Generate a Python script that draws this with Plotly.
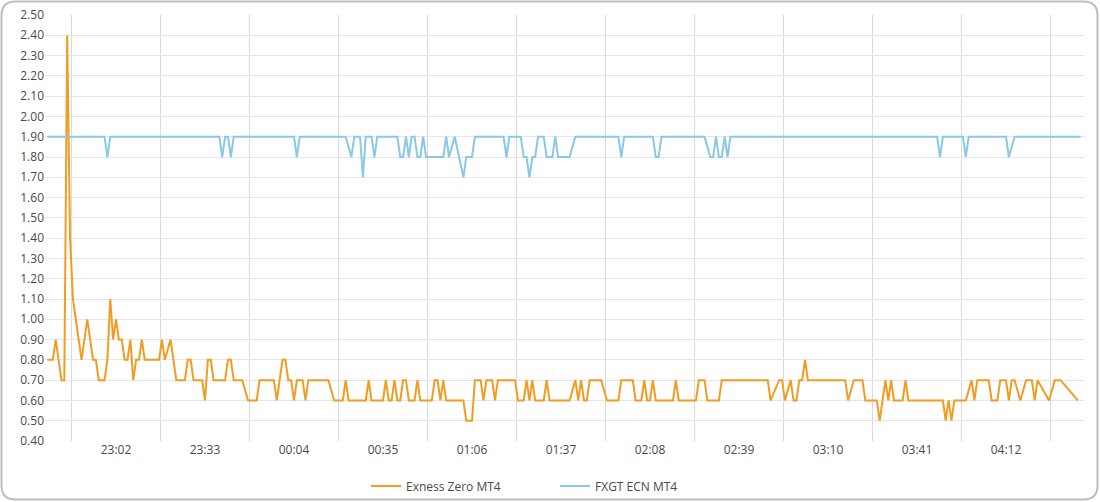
import plotly.graph_objects as go

# ---------------- data ----------------
START = "22:38"
tick_labels = ["23:02", "23:33", "00:04", "00:35", "01:06", "01:37",
               "02:08", "02:39", "03:10", "03:41", "04:12"]

series_names = ["Exness Zero MT4", "FXGT ECN MT4"]

# minutes since START at which the value changes direction, and the value there
exness_min = [0, 2, 3, 5, 6, 7, 8, 9, 12, 14, 16, 17, 18, 20, 21, 22, 23, 24, 25, 26,
              27, 28, 29, 30, 31, 32, 33, 34, 39, 40, 41, 43, 45, 48, 49, 50, 51, 54, 55, 56,
              57, 58, 62, 63, 64, 65, 68, 70, 73, 74, 79, 80, 82, 83, 84, 85, 86, 87, 89, 90,
              91, 98, 100, 103, 104, 105, 111, 112, 113, 117, 118, 119, 120, 121, 122, 123, 124, 125, 126, 128,
              129, 130, 134, 135, 136, 137, 138, 139, 145, 146, 148, 149, 151, 152, 153, 155, 156, 157, 163, 164,
              166, 167, 168, 169, 170, 173, 174, 175, 182, 184, 185, 186, 187, 188, 189, 193, 195, 199, 200, 204,
              205, 207, 208, 209, 210, 211, 212, 218, 219, 220, 226, 227, 229, 230, 234, 235, 251, 252, 255, 256,
              257, 259, 260, 261, 262, 263, 264, 265, 278, 279, 281, 284, 285, 289, 290, 292, 293, 294, 295, 298,
              299, 300, 312, 313, 314, 315, 316, 320, 322, 323, 324, 328, 329, 331, 332, 334, 335, 336, 337, 339,
              341, 343, 344, 345, 349, 351, 353, 359]
exness_val = [0.8, 0.8, 0.9, 0.7, 0.7, 2.4, 1.4, 1.1, 0.8, 1.0, 0.8, 0.8, 0.7, 0.7, 0.8, 1.1, 0.9, 1.0, 0.9, 0.9,
              0.8, 0.8, 0.9, 0.7, 0.8, 0.8, 0.9, 0.8, 0.8, 0.9, 0.8, 0.9, 0.7, 0.7, 0.8, 0.8, 0.7, 0.7, 0.6, 0.8,
              0.8, 0.7, 0.7, 0.8, 0.8, 0.7, 0.7, 0.6, 0.6, 0.7, 0.7, 0.6, 0.8, 0.8, 0.7, 0.7, 0.6, 0.7, 0.7, 0.6,
              0.7, 0.7, 0.6, 0.6, 0.7, 0.6, 0.6, 0.7, 0.6, 0.6, 0.7, 0.6, 0.6, 0.7, 0.6, 0.6, 0.7, 0.7, 0.6, 0.6,
              0.7, 0.6, 0.6, 0.7, 0.7, 0.6, 0.7, 0.6, 0.6, 0.5, 0.5, 0.7, 0.7, 0.6, 0.7, 0.7, 0.6, 0.7, 0.7, 0.6,
              0.6, 0.7, 0.6, 0.7, 0.6, 0.6, 0.7, 0.6, 0.6, 0.7, 0.6, 0.7, 0.6, 0.6, 0.7, 0.7, 0.6, 0.6, 0.7, 0.7,
              0.6, 0.6, 0.7, 0.6, 0.6, 0.7, 0.6, 0.6, 0.7, 0.6, 0.6, 0.7, 0.7, 0.6, 0.6, 0.7, 0.7, 0.6, 0.7, 0.7,
              0.6, 0.7, 0.6, 0.6, 0.7, 0.7, 0.8, 0.7, 0.7, 0.6, 0.7, 0.7, 0.6, 0.6, 0.5, 0.7, 0.6, 0.7, 0.6, 0.6,
              0.7, 0.6, 0.6, 0.5, 0.6, 0.5, 0.6, 0.6, 0.7, 0.6, 0.7, 0.7, 0.6, 0.6, 0.7, 0.7, 0.6, 0.7, 0.7, 0.6,
              0.7, 0.7, 0.6, 0.7, 0.6, 0.7, 0.7, 0.6]

fxgt_min = [0, 20, 21, 22, 60, 61, 62, 63, 64, 65, 86, 87, 88, 104, 106, 107, 109, 110, 111, 113,
            114, 115, 122, 123, 124, 125, 126, 127, 128, 129, 130, 131, 132, 138, 139, 140, 142, 145, 146, 148,
            149, 159, 160, 161, 165, 166, 167, 168, 169, 170, 171, 173, 174, 176, 177, 178, 182, 184, 199, 200,
            201, 211, 212, 213, 214, 229, 231, 232, 233, 234, 235, 236, 237, 238, 310, 311, 312, 319, 320, 321,
            334, 335, 337, 360]
fxgt_val = [1.9, 1.9, 1.8, 1.9, 1.9, 1.8, 1.9, 1.9, 1.8, 1.9, 1.9, 1.8, 1.9, 1.9, 1.8, 1.9, 1.9, 1.7, 1.9, 1.9,
            1.8, 1.9, 1.9, 1.8, 1.8, 1.9, 1.8, 1.9, 1.9, 1.8, 1.8, 1.9, 1.8, 1.8, 1.9, 1.8, 1.9, 1.7, 1.8, 1.8,
            1.9, 1.9, 1.8, 1.9, 1.9, 1.8, 1.8, 1.7, 1.8, 1.8, 1.9, 1.9, 1.8, 1.8, 1.9, 1.8, 1.8, 1.9, 1.9, 1.8,
            1.9, 1.9, 1.8, 1.8, 1.9, 1.9, 1.8, 1.8, 1.9, 1.8, 1.8, 1.9, 1.8, 1.9, 1.9, 1.8, 1.9, 1.9, 1.8, 1.9,
            1.9, 1.8, 1.9, 1.9]

# ---------------- helpers ----------------
def minutes_from_start(label):
    h, m = map(int, label.split(":"))
    sh, sm = map(int, START.split(":"))
    d = (h * 60 + m) - (sh * 60 + sm)
    if d < 0:
        d += 1440
    return d

tick_pos = [minutes_from_start(t) for t in tick_labels]
half = (tick_pos[1] - tick_pos[0]) / 2
grid_pos = [p - half for p in tick_pos] + [tick_pos[-1] + half]

W, H = 1100, 502
L, R, T, B = 45, 15, 15, 61
pw, ph = W - L - R, H - T - B

FONT = "Open Sans, Noto Sans, sans-serif"
ORANGE = "#F39C24"
BLUE = "#89C8E6"

fig = go.Figure()
fig.add_trace(go.Scatter(x=exness_min, y=exness_val, mode="lines", name=series_names[0],
                         line=dict(color=ORANGE, width=2)))
fig.add_trace(go.Scatter(x=fxgt_min, y=fxgt_val, mode="lines", name=series_names[1],
                         line=dict(color=BLUE, width=2)))

# rounded outer frame (pixel geometry -> paper coordinates)
def px(xp):
    return (xp - L) / pw

def py(yp):
    return (H - B - yp) / ph

x0, y0, x1, y1, r = 1.5, 1.5, W - 2.5, H - 2.5, 14
path = (f"M {px(x0 + r)},{py(y0)} L {px(x1 - r)},{py(y0)} "
        f"Q {px(x1)},{py(y0)} {px(x1)},{py(y0 + r)} "
        f"L {px(x1)},{py(y1 - r)} Q {px(x1)},{py(y1)} {px(x1 - r)},{py(y1)} "
        f"L {px(x0 + r)},{py(y1)} Q {px(x0)},{py(y1)} {px(x0)},{py(y1 - r)} "
        f"L {px(x0)},{py(y0 + r)} Q {px(x0)},{py(y0)} {px(x0 + r)},{py(y0)} Z")
fig.add_shape(type="path", path=path, xref="paper", yref="paper",
              line=dict(color="#BDBDBD", width=2), layer="above")

scale = (1006 - 116) / (tick_pos[-1] - tick_pos[0])
r0 = tick_pos[0] - (116 - L) / scale
r1 = r0 + pw / scale

fig.update_layout(
    width=W, height=H,
    margin=dict(l=L, r=R, t=T, b=B, autoexpand=False),
    paper_bgcolor="white", plot_bgcolor="white",
    font=dict(family=FONT, size=12, color="#4A4A4A"),
    showlegend=True,
    legend=dict(orientation="h", x=0.5 - 10 / pw, xanchor="center", y=py(486), yanchor="middle",
                bgcolor="rgba(0,0,0,0)",
                font=dict(size=12, color="#4A4A4A"), entrywidth=144, entrywidthmode="pixels"),
    xaxis=dict(range=[r0, r1], tickmode="array", tickvals=tick_pos, ticktext=tick_labels,
               showgrid=False, zeroline=False, showline=False, ticks="", automargin=False,
               minor=dict(tickmode="array", tickvals=grid_pos, showgrid=True,
                          gridcolor="#DADADA", gridwidth=1, ticks="")),
    yaxis=dict(range=[0.4, 2.5], tick0=0.4, dtick=0.1, tickformat=".2f", automargin=False,
               showgrid=True, gridcolor="#E6E6E6", gridwidth=1,
               zeroline=False, showline=False, ticks=""),
)

fig.write_html("out.html", config={"displayModeBar": False},
               post_script="document.body.style.margin='0';document.body.style.overflow='hidden';")
